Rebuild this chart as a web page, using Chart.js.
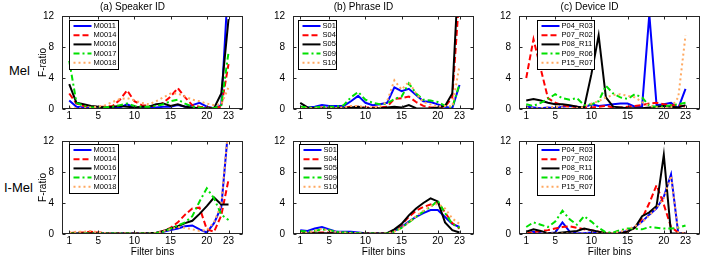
<!DOCTYPE html>
<html>
<head>
<meta charset="utf-8">
<script src="https://cdn.jsdelivr.net/npm/chart.js@4.4.1/dist/chart.umd.min.js"></script>
<style>
  body { margin: 0; background: #fff; width: 706px; height: 258px; position: relative; overflow: hidden;
         font-family: "Liberation Sans", Arial, sans-serif; }
  canvas { position: absolute; }
  .rowlabel { position: absolute; font-size: 13px; line-height: 15px; color: #000; }
</style>
</head>
<body>
<div class="rowlabel" style="left:9px;top:63px">Mel</div>
<div class="rowlabel" style="left:4px;top:180px">I-Mel</div>
<script>
const bins = [1, 2, 3, 4, 5, 6, 7, 8, 9, 10, 11, 12, 13, 14, 15, 16, 17, 18, 19, 20, 21, 22, 23];
const xTicks = [1, 5, 10, 15, 20, 23];
const yTicks = [0, 4, 8, 12];

const speakers = ['M0011', 'M0014', 'M0016', 'M0017', 'M0018'];
const phrases = ['S01', 'S04', 'S05', 'S09', 'S10'];
const devices = ['P04_R03', 'P07_R02', 'P08_R11', 'P09_R06', 'P15_R07'];

// Mel filterbank, F-ratio per bin
const melSpeaker = [
    [1.1, 0.3, 0.2, 0.1, 0.1, 0.1, 0.2, 0.2, 0.6, 0.2, 0.1, 0.1, 0.2, 0.3, 0.3, 0.5, 0.3, 0.5, 0.8, 0.3, 0.1, 0.5, 17],
    [2.0, 0.7, 0.4, 0.3, 0.3, 0.3, 0.4, 1.2, 2.4, 1.0, 0.5, 0.4, 0.4, 0.8, 1.6, 2.7, 1.5, 0.5, 0.3, 0.2, 0.1, 0.3, 5.8],
    [3.2, 0.8, 0.6, 0.4, 0.3, 0.2, 0.3, 0.4, 0.3, 0.2, 0.3, 0.3, 0.6, 0.7, 0.4, 0.6, 0.3, 0.2, 0.1, 0.1, 0.1, 2.0, 11.6],
    [6.2, 0.8, 0.4, 0.2, 0.2, 0.2, 0.3, 0.5, 0.7, 0.4, 0.3, 0.3, 0.4, 0.6, 1.0, 1.2, 0.7, 0.3, 0.2, 0.1, 0.1, 0.5, 7.3],
    [0.2, 0.1, 0.1, 0.2, 0.3, 0.5, 0.9, 1.3, 1.4, 1.1, 0.8, 0.6, 1.0, 1.5, 2.0, 2.0, 1.6, 1.2, 1.0, 0.7, 0.5, 0.6, 2.8]
];
const melPhrase = [
    [0.3, 0.2, 0.3, 0.5, 0.4, 0.4, 0.4, 1.0, 1.7, 0.8, 0.5, 0.6, 0.8, 2.8, 2.3, 2.6, 1.8, 1.0, 0.9, 0.6, 0.3, 0.1, 3.1],
    [0.1, 0.1, 0.1, 0.2, 0.1, 0.1, 0.2, 0.3, 0.3, 0.2, 0.2, 0.2, 0.3, 1.3, 1.4, 1.6, 0.9, 0.4, 0.2, 0.2, 0.3, 1.5, 15],
    [0.8, 0.2, 0.1, 0.1, 0.1, 0.1, 0.1, 0.2, 0.3, 0.1, 0.1, 0.1, 0.2, 0.3, 0.2, 0.5, 0.1, 0.05, 0.1, 0.2, 0.4, 2.0, 20],
    [0.3, 0.2, 0.2, 0.3, 0.3, 0.3, 0.5, 1.5, 2.2, 1.2, 0.8, 0.6, 0.7, 1.3, 1.6, 3.3, 2.0, 1.2, 1.1, 0.9, 0.4, 0.2, 3.2],
    [0.1, 0.1, 0.1, 0.1, 0.1, 0.1, 0.2, 0.4, 0.4, 0.2, 0.2, 0.3, 1.0, 3.7, 2.5, 3.5, 2.0, 0.9, 0.6, 0.3, 0.4, 0.3, 5.6]
];
const melDevice = [
    [0.3, 0.2, 0.1, 0.2, 0.1, 0.3, 0.4, 0.3, 0.2, 0.6, 0.4, 0.5, 0.6, 0.7, 0.7, 0.3, 0.3, 12.2, 0.5, 0.6, 0.8, 0.1, 2.6],
    [4.0, 9.0, 5.2, 1.4, 0.8, 0.5, 0.3, 0.3, 0.2, 0.2, 0.3, 0.4, 0.2, 0.2, 0.3, 0.4, 0.5, 0.7, 0.8, 0.6, 0.5, 0.5, 0.3],
    [1.1, 1.3, 1.1, 0.8, 0.6, 0.6, 0.5, 0.3, 0.2, 4.5, 9.5, 1.5, 0.3, 0.2, 0.1, 0.1, 0.1, 0.2, 0.3, 0.4, 0.3, 0.2, 0.5],
    [0.6, 0.4, 0.8, 1.3, 1.9, 1.4, 1.2, 1.4, 0.5, 0.6, 1.0, 3.0, 2.0, 1.5, 1.3, 1.9, 1.5, 0.4, 0.3, 0.3, 0.5, 0.6, 0.8],
    [0.2, 0.1, 0.1, 0.2, 0.3, 0.2, 0.1, 0.1, 0.3, 0.7, 1.0, 1.5, 1.8, 1.9, 1.7, 1.5, 0.9, 0.4, 0.2, 0.1, 0.2, 1.5, 9.5]
];

// I-Mel filterbank, F-ratio per bin
const imelSpeaker = [
    [0.05, 0.05, 0.05, 0.05, 0.05, 0.05, 0.05, 0.05, 0.05, 0.05, 0.05, 0.05, 0.1, 0.3, 0.5, 0.7, 1.0, 1.1, 0.6, 0.2, 1.4, 3.5, 14],
    [0.1, 0.2, 0.2, 0.3, 0.2, 0.1, 0.05, 0.05, 0.05, 0.05, 0.05, 0.05, 0.1, 0.4, 0.8, 1.5, 2.5, 3.3, 3.4, 0.6, 0.3, 2.4, 7.0],
    [0.05, 0.05, 0.05, 0.05, 0.05, 0.05, 0.05, 0.05, 0.05, 0.05, 0.05, 0.1, 0.15, 0.4, 0.7, 1.0, 1.4, 1.7, 2.6, 3.6, 4.7, 3.8, 3.8],
    [0.05, 0.05, 0.05, 0.05, 0.05, 0.05, 0.05, 0.05, 0.05, 0.05, 0.05, 0.05, 0.1, 0.3, 0.7, 1.1, 1.5, 2.3, 4.2, 5.9, 4.6, 2.5, 1.8],
    [0.2, 0.3, 0.3, 0.4, 0.2, 0.1, 0.05, 0.05, 0.05, 0.05, 0.05, 0.05, 0.1, 0.4, 0.6, 0.9, 0.8, 0.6, 0.4, 0.5, 1.5, 3.8, 14]
];
const imelPhrase = [
    [0.5, 0.4, 0.7, 0.9, 0.6, 0.3, 0.3, 0.3, 0.2, 0.1, 0.1, 0.1, 0.1, 0.4, 0.9, 1.6, 2.2, 2.7, 3.1, 3.1, 2.2, 1.3, 0.9],
    [0.1, 0.1, 0.2, 0.2, 0.2, 0.1, 0.1, 0.1, 0.05, 0.05, 0.05, 0.05, 0.05, 0.5, 1.2, 2.2, 3.0, 3.5, 3.8, 4.1, 2.8, 1.4, 0.7],
    [0.05, 0.1, 0.1, 0.1, 0.1, 0.1, 0.1, 0.05, 0.05, 0.05, 0.05, 0.05, 0.1, 0.6, 1.3, 2.4, 3.3, 4.0, 4.6, 4.2, 1.5, 0.5, 0.2],
    [0.4, 0.3, 0.4, 0.6, 0.5, 0.3, 0.2, 0.2, 0.1, 0.1, 0.05, 0.05, 0.05, 0.3, 0.8, 1.5, 2.2, 2.9, 3.5, 4.3, 2.7, 1.3, 0.8],
    [0.1, 0.2, 0.4, 0.7, 0.4, 0.3, 0.2, 0.1, 0.1, 0.05, 0.05, 0.05, 0.05, 0.3, 0.8, 1.5, 2.3, 3.0, 3.6, 3.9, 3.3, 2.0, 1.3]
];
const imelDevice = [
    [0.05, 0.3, 0.1, 0.1, 0.2, 1.5, 0.3, 0.1, 0.1, 0.2, 0.1, 0.05, 0.05, 0.2, 0.4, 0.9, 1.6, 2.5, 3.3, 4.8, 7.7, 0.05, 0.05],
    [0.1, 0.2, 0.4, 0.5, 0.7, 0.9, 1.0, 0.8, 0.6, 0.5, 0.3, 0.1, 0.05, 0.1, 0.3, 0.8, 2.0, 4.0, 6.3, 3.8, 0.9, 0.2, 0.05],
    [0.3, 0.6, 0.4, 0.1, 0.1, 0.2, 0.3, 0.4, 0.7, 0.5, 0.3, 0.1, 0.05, 0.1, 0.3, 0.8, 2.3, 2.8, 3.6, 10.2, 0.05, 0.05, 0.05],
    [0.9, 1.5, 1.2, 0.9, 1.6, 3.0, 1.9, 1.2, 2.3, 1.6, 0.8, 0.2, 0.2, 0.5, 0.7, 0.7, 0.6, 0.9, 0.8, 0.7, 0.7, 0.8, 1.1],
    [0.05, 0.05, 0.05, 0.05, 0.05, 0.05, 0.05, 0.05, 0.05, 0.05, 0.05, 0.05, 0.1, 0.3, 0.6, 1.0, 1.5, 2.4, 3.4, 4.6, 7.5, 0.2, 0.05]
];

Chart.defaults.font.family = '"Liberation Sans", Arial, sans-serif';
Chart.defaults.color = '#000';

const lineStyles = [
    { borderColor: '#0000ff', borderDash: [] },
    { borderColor: '#ff0000', borderDash: [6, 3] },
    { borderColor: '#000000', borderDash: [] },
    { borderColor: '#00e000', borderDash: [6, 3, 2, 3] },
    { borderColor: '#ffa860', borderDash: [2, 3] }
];

// box with inward ticks on all four sides, like the original
const framePlugin = {
    id: 'frame',
    afterDatasetsDraw(chart) {
        const { ctx, chartArea: a, scales: { x, y } } = chart;
        const L = Math.round(a.left) + 0.5, R = Math.round(a.right) - 0.5;
        const T = Math.round(a.top) + 0.5, B = Math.round(a.bottom) - 0.5;
        ctx.save();
        ctx.strokeStyle = '#262626';
        ctx.lineWidth = 1;
        ctx.strokeRect(L, T, R - L, B - T);
        ctx.beginPath();
        x.ticks.forEach(t => {
            const px = Math.round(x.getPixelForValue(t.value)) + 0.5;
            ctx.moveTo(px, B); ctx.lineTo(px, B - 3);
            ctx.moveTo(px, T); ctx.lineTo(px, T + 3);
        });
        y.ticks.forEach(t => {
            const py = Math.round(y.getPixelForValue(t.value)) + 0.5;
            ctx.moveTo(L, py); ctx.lineTo(L + 3, py);
            ctx.moveTo(R, py); ctx.lineTo(R - 3, py);
        });
        ctx.stroke();
        ctx.restore();
    }
};

// legend drawn inside the plot box
const boxLegend = {
    id: 'boxLegend',
    afterDraw(chart, args, opts) {
        const { ctx, chartArea: a } = chart;
        const x0 = Math.round(a.left + opts.dx) + 0.5, y0 = Math.round(a.top + opts.dy) + 0.5;
        ctx.save();
        ctx.fillStyle = '#fff';
        ctx.fillRect(x0, y0, opts.w, opts.h);
        ctx.strokeStyle = '#000';
        ctx.lineWidth = 1;
        ctx.strokeRect(x0, y0, opts.w, opts.h);
        ctx.font = '7.5px "Liberation Sans", Arial, sans-serif';
        ctx.textBaseline = 'middle';
        chart.data.datasets.forEach((ds, i) => {
            const cy = y0 + opts.first + opts.rowH * i;
            ctx.strokeStyle = ds.borderColor;
            ctx.lineWidth = 2;
            ctx.setLineDash(ds.borderDash);
            ctx.beginPath();
            ctx.moveTo(x0 + 4, cy);
            ctx.lineTo(x0 + 22, cy);
            ctx.stroke();
            ctx.setLineDash([]);
            ctx.fillStyle = '#000';
            ctx.fillText(ds.label, x0 + 24, cy);
        });
        ctx.restore();
    }
};

const cols = [{ l: 62, r: 243 }, { l: 293, r: 474 }, { l: 519, r: 700 }];
const rows = [{ t: 16, b: 109 }, { t: 141, b: 234 }];

const panels = [
    { row: 0, col: 0, title: '(a) Speaker ID', labels: speakers, series: melSpeaker, legend: { dx: 7, dy: 4, w: 49, h: 49 } },
    { row: 0, col: 1, title: '(b) Phrase ID', labels: phrases, series: melPhrase, legend: { dx: 5, dy: 4, w: 38, h: 49 } },
    { row: 0, col: 2, title: '(c) Device ID', labels: devices, series: melDevice, legend: { dx: 18, dy: 4, w: 57, h: 49 } },
    { row: 1, col: 0, title: '', labels: speakers, series: imelSpeaker, legend: { dx: 7, dy: 3, w: 49, h: 49 } },
    { row: 1, col: 1, title: '', labels: phrases, series: imelPhrase, legend: { dx: 6, dy: 3, w: 38, h: 49 } },
    { row: 1, col: 2, title: '', labels: devices, series: imelDevice, legend: { dx: 18, dy: 3, w: 57, h: 51 } }
];

const tickFont = { size: 10 };

panels.forEach(p => {
    const c = cols[p.col], r = rows[p.row];
    const bottomH = p.row === 1 ? 24 : 14;
    const canvas = document.createElement('canvas');
    canvas.width = (c.r - c.l) + 40 + 48;
    canvas.height = 16 + (r.b - r.t) + bottomH;
    canvas.style.left = (c.l - 40) + 'px';
    canvas.style.top = (r.t - 16) + 'px';
    document.body.appendChild(canvas);

    new Chart(canvas, {
        type: 'line',
        data: {
            datasets: p.series.map((vals, i) => ({
                label: p.labels[i],
                data: bins.map((b, j) => ({ x: b, y: vals[j] })),
                borderColor: lineStyles[i].borderColor,
                borderDash: lineStyles[i].borderDash,
                borderWidth: 2,
                pointRadius: 0,
                tension: 0,
                order: 5 - i
            }))
        },
        options: {
            responsive: false,
            animation: false,
            layout: { padding: { left: 0, right: 48, top: p.title ? 0 : 16, bottom: 0 } },
            plugins: {
                legend: { display: false },
                tooltip: { enabled: false },
                title: {
                    display: !!p.title,
                    text: p.title,
                    font: { size: 10, weight: 'normal' },
                    color: '#000',
                    padding: { top: 1, bottom: 3 }
                },
                boxLegend: { ...p.legend, first: 5.5, rowH: 9.2 }
            },
            scales: {
                x: {
                    type: 'linear',
                    min: 0,
                    max: 25,
                    afterBuildTicks: ax => { ax.ticks = xTicks.map(v => ({ value: v })); },
                    afterFit: ax => { ax.height = bottomH; },
                    grid: { display: false, drawTicks: false },
                    border: { display: false },
                    ticks: { font: tickFont, color: '#000', padding: 1, maxRotation: 0, autoSkip: false },
                    title: {
                        display: p.row === 1,
                        text: 'Filter bins',
                        font: { size: 10 },
                        color: '#000',
                        padding: { top: 0, bottom: 0 }
                    }
                },
                y: {
                    min: 0,
                    max: 12,
                    afterBuildTicks: ax => { ax.ticks = yTicks.map(v => ({ value: v })); },
                    afterFit: ax => { ax.width = 40; },
                    grid: { display: false, drawTicks: false },
                    border: { display: false },
                    ticks: { font: tickFont, color: '#000', padding: 8 },
                    title: {
                        display: p.col === 0,
                        text: 'F-ratio',
                        font: { size: 10 },
                        color: '#000',
                        padding: { top: 15, bottom: 0 }
                    }
                }
            }
        },
        plugins: [framePlugin, boxLegend]
    });
});
</script>
</body>
</html>
